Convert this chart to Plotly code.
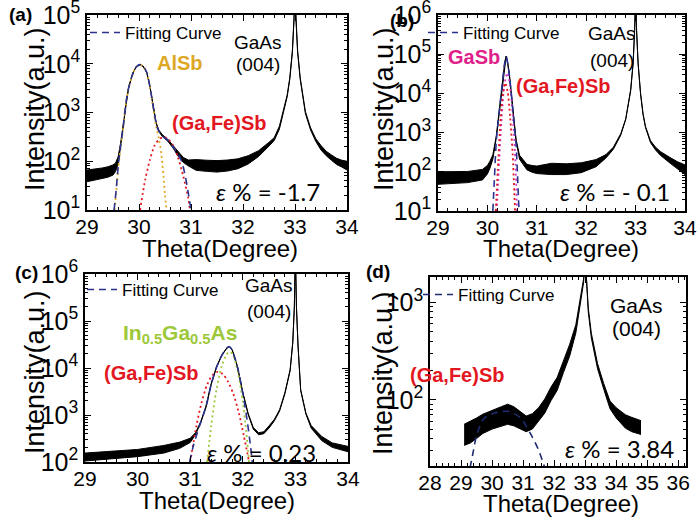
import plotly.graph_objects as go

# ---------------- data ----------------
# Panel (a): AlSb buffer
a_theta = [29.0, 29.1, 29.2, 29.3, 29.4, 29.5, 29.55, 29.6, 29.65, 29.7, 29.75, 29.8, 29.85, 29.9, 29.95,
           30.02, 30.08, 30.15, 30.21, 30.28, 30.33, 30.38, 30.45, 30.55, 30.65, 30.75, 30.85, 30.95,
           31.1, 31.3, 31.5, 31.7, 31.9, 32.1, 32.3, 32.5, 32.6, 32.7, 32.8, 32.85, 32.9, 32.95, 32.98,
           33.0, 33.02, 33.05, 33.1, 33.15, 33.2, 33.3, 33.4, 33.5, 33.6, 33.7, 33.8, 33.9, 34.0]
a_lo = [38, 40, 42, 44, 47, 52, 62, 88, 210, 540, 1550, 3150, 4950, 7000, 8600,
        9500, 8800, 6500, 3350, 1180, 590, 410, 320, 260, 190, 128, 95, 80,
        65, 62, 60, 63, 70, 88, 125, 205, 265, 455, 1200, 2100, 4800, 17000, 75000,
        300000, 75000, 17000, 4800, 2100, 950, 435, 255, 170, 130, 105, 86, 76, 66]
a_hi = [66, 68, 70, 73, 77, 84, 92, 125, 250, 580, 1650, 3250, 5050, 7200, 8800,
        9700, 9000, 6700, 3450, 1220, 620, 440, 350, 285, 215, 155, 120, 106,
        108, 105, 103, 106, 112, 130, 165, 245, 305, 525, 1300, 2300, 5200, 19000, 85000,
        300000, 85000, 19000, 5200, 2300, 1050, 485, 290, 210, 160, 135, 115, 105, 100]
a_fit_theta = [29.52, 29.56, 29.6, 29.65, 29.7, 29.75, 29.8, 29.85, 29.9, 29.95, 30.02, 30.08,
               30.15, 30.21, 30.28, 30.33, 30.38, 30.45, 30.55, 30.65, 30.75, 30.82, 30.88, 30.94, 31.0]
a_fit = [10, 25, 80, 220, 560, 1600, 3200, 5000, 7100, 8700, 9600, 8900,
         6600, 3400, 1200, 600, 420, 330, 270, 200, 140, 100, 56, 25, 10]
a_alsb_theta = [29.53, 29.56, 29.6, 29.65, 29.7, 29.75, 29.8, 29.85, 29.9, 29.95, 30.02, 30.08,
                30.15, 30.21, 30.28, 30.33, 30.38, 30.43, 30.47, 30.5, 30.53]
a_alsb = [10, 22, 70, 200, 520, 1550, 3100, 4900, 7000, 8600, 9500, 8800,
          6400, 3300, 1100, 520, 300, 140, 50, 20, 10]
a_gfs_theta = [30.02, 30.12, 30.21, 30.3, 30.4, 30.47, 30.55, 30.65, 30.75, 30.85, 30.95, 30.98]
a_gfs = [10, 42, 107, 210, 290, 310, 290, 215, 120, 50, 17, 10]

# Panel (b): GaSb buffer
b_theta = [29.0, 29.3, 29.6, 29.9, 30.0, 30.05, 30.11, 30.18, 30.25, 30.31, 30.35, 30.38, 30.41,
           30.45, 30.52, 30.58, 30.65, 30.8, 30.9, 31.0, 31.3, 31.6, 31.9, 32.2, 32.4, 32.55,
           32.7, 32.8, 32.9, 32.95, 32.98, 33.0, 33.02, 33.05, 33.1, 33.15, 33.2, 33.3, 33.4,
           33.5, 33.7, 33.85, 34.0]
b_lo = [48, 50, 53, 62, 88, 122, 210, 740, 4300, 21000, 60000, 88000, 60000,
        25000, 3100, 620, 210, 112, 98, 90, 85, 85, 95, 135, 225, 375,
        860, 2150, 11500, 58000, 400000, 3000000, 400000, 58000, 9700, 2900, 1350, 560, 365,
        265, 165, 120, 85]
b_hi = [100, 100, 102, 115, 145, 185, 270, 820, 4700, 23000, 62000, 90000, 62000,
        27000, 3300, 680, 265, 155, 145, 140, 165, 160, 170, 205, 275, 425,
        940, 2250, 12500, 62000, 400000, 3000000, 400000, 62000, 10300, 3100, 1450, 630, 430,
        330, 230, 180, 150]
b_fit_theta = [30.11, 30.14, 30.18, 30.25, 30.31, 30.35, 30.38, 30.41, 30.45, 30.52, 30.58, 30.61, 30.64]
b_fit = [10, 60, 600, 4500, 22000, 60000, 88000, 60000, 26000, 3200, 500, 80, 10]
b_gasb_theta = [30.19, 30.24, 30.29, 30.34, 30.4, 30.46, 30.52, 30.57, 30.6]
b_gasb = [10, 200, 2500, 15000, 33000, 15000, 2000, 150, 10]
b_gfs_theta = [30.17, 30.22, 30.27, 30.32, 30.36, 30.41, 30.46, 30.51, 30.56]
b_gfs = [10, 200, 2500, 11000, 18600, 11000, 2500, 300, 10]

# Panel (c): In0.5Ga0.5As buffer
c_theta = [29.0, 29.5, 30.0, 30.5, 30.8, 31.0, 31.1, 31.2, 31.3, 31.4, 31.5, 31.6, 31.7, 31.75,
           31.8, 31.9, 32.0, 32.1, 32.2, 32.3, 32.4, 32.5, 32.6, 32.7, 32.8, 32.9, 32.95, 32.98,
           33.0, 33.02, 33.05, 33.1, 33.2, 33.3, 33.5, 33.7, 34.0]
c_lo = [105, 115, 130, 155, 195, 260, 380, 680, 1450, 4500, 10300, 18300, 26700, 28200,
        23700, 10300, 2950, 1040, 500, 380, 400, 530, 750, 1220, 2800, 8700, 34000, 200000,
        3000000, 200000, 29000, 3300, 1040, 525, 285, 205, 165]
c_hi = [155, 170, 185, 225, 265, 320, 420, 720, 1550, 4700, 10700, 18900, 27300, 28800,
        24300, 10700, 3050, 1100, 540, 420, 440, 590, 810, 1300, 3000, 9300, 36000, 200000,
        3000000, 200000, 31000, 3500, 1100, 595, 350, 255, 215]
c_fit_theta = [30.99, 31.05, 31.13, 31.2, 31.3, 31.4, 31.5, 31.6, 31.7, 31.75, 31.8, 31.9, 32.0,
               32.08, 32.14, 32.18]
c_fit = [100, 200, 400, 700, 1500, 4500, 10300, 18400, 26800, 28300, 23800, 10300, 2900,
         800, 250, 100]
c_gfs_theta = [31.0, 31.12, 31.22, 31.32, 31.42, 31.52, 31.62, 31.72, 31.82, 31.92, 32.02, 32.12]
c_gfs = [100, 600, 1900, 4360, 7000, 8300, 7400, 5100, 2800, 1170, 360, 100]
c_ingaas_theta = [31.32, 31.4, 31.5, 31.6, 31.7, 31.75, 31.8, 31.9, 32.0, 32.05, 32.12]
c_ingaas = [100, 600, 3500, 11000, 20000, 22000, 20000, 9000, 1900, 650, 100]

# Panel (d): (Ga,Fe)Sb directly on GaAs
d_theta = [29.1, 29.3, 29.5, 29.7, 30.0, 30.3, 30.5, 30.7, 30.9, 31.1, 31.3, 31.5, 31.7, 31.9,
           32.1, 32.3, 32.5, 32.7, 32.85, 32.95, 33.0, 33.05, 33.1, 33.2, 33.4, 33.6, 33.8,
           34.0, 34.3, 34.5, 34.8]
d_lo = [34, 36, 40, 45, 50, 54, 56, 54, 50, 47, 50, 60, 73, 98, 125, 190, 280, 485, 1000,
        1600, 3000, 1600, 800, 430, 208, 128, 81, 65, 51, 47, 44]
d_hi = [56, 60, 65, 71, 77, 85, 90, 85, 76, 68, 72, 83, 102, 135, 170, 250, 370, 590, 1100,
        1750, 3000, 1750, 880, 480, 235, 146, 97, 83, 70, 66, 61]
d_fit_theta = [29.29, 29.4, 29.5, 29.72, 30.0, 30.52, 30.9, 31.22, 31.49, 31.7]
d_fit = [20, 30, 43, 63, 72, 76, 66, 46, 31, 20]

x_ranges = [[29, 34], [29, 34], [29, 34], [28, 36.25]]
y_ranges = [[1, 5], [1, 6], [2, 6], [1.32, 3.26]]   # log10 units
y_tickvals = [[10, 100, 1000, 10000, 100000],
              [10, 100, 1000, 10000, 100000, 1000000],
              [100, 1000, 10000, 100000, 1000000],
              [100, 1000]]
y_ticktext = [["10<sup>1</sup>", "10<sup>2</sup>", "10<sup>3</sup>", "10<sup>4</sup>", "10<sup>5</sup>"],
              ["10<sup>1</sup>", "10<sup>2</sup>", "10<sup>3</sup>", "10<sup>4</sup>", "10<sup>5</sup>", "10<sup>6</sup>"],
              ["10<sup>2</sup>", "10<sup>3</sup>", "10<sup>4</sup>", "10<sup>5</sup>", "10<sup>6</sup>"],
              ["10<sup>2</sup>", "10<sup>3</sup>"]]
strain = ["-1.7", "- 0.1", "0.23", "3.84"]

# ---------------- style ----------------
W, H = 699, 527
BLACK = "black"
BLUE = "#2B338F"
RED = "#E3171F"
GOLD = "#DDA826"
MAG = "#E0218A"
MAGL = "#CC3CC8"
GREEN = "#9DC83A"
ARIAL = "Liberation Sans, Arial, sans-serif"
EPS_FONT = "Lato, Carlito, sans-serif"

# plot-area boxes measured in page pixels (left, right, top, bottom)
boxes = [(87, 347, 15, 210), (438, 685, 15, 211), (85, 348, 274, 462), (430, 686, 277, 466)]


def px(x):
    return x / W


def py(y):
    return 1 - y / H


fig = go.Figure()


def band(theta, lo, hi, k):
    xa = "x" if k == 1 else f"x{k}"
    ya = "y" if k == 1 else f"y{k}"
    fig.add_trace(go.Scatter(x=theta, y=lo, mode="lines", line=dict(color=BLACK, width=1),
                             xaxis=xa, yaxis=ya, showlegend=False, hoverinfo="skip"))
    fig.add_trace(go.Scatter(x=theta, y=hi, mode="lines", line=dict(color=BLACK, width=1),
                             fill="tonexty", fillcolor=BLACK,
                             xaxis=xa, yaxis=ya, showlegend=False, hoverinfo="skip"))


def curve(theta, vals, k, color, dash, width=1.6, legend=None):
    xa = "x" if k == 1 else f"x{k}"
    ya = "y" if k == 1 else f"y{k}"
    fig.add_trace(go.Scatter(x=theta, y=vals, mode="lines",
                             line=dict(color=color, width=width, dash=dash, shape="spline", smoothing=0.8),
                             xaxis=xa, yaxis=ya, hoverinfo="skip",
                             name="Fitting Curve", showlegend=legend is not None,
                             legend=legend if legend else "legend"))


DOT = "2px,3px"
DASH = "7px,5px"

# (a)
band(a_theta, a_lo, a_hi, 1)
curve(a_alsb_theta, a_alsb, 1, GOLD, DOT, 1.8)
curve(a_gfs_theta, a_gfs, 1, RED, DOT, 1.8)
curve(a_fit_theta, a_fit, 1, BLUE, DASH, 1.6, "legend")
# (b)
band(b_theta, b_lo, b_hi, 2)
curve(b_gasb_theta, b_gasb, 2, MAGL, DOT, 1.8)
curve(b_gfs_theta, b_gfs, 2, RED, DOT, 1.8)
curve(b_fit_theta, b_fit, 2, BLUE, DASH, 1.6, "legend2")
# (c)
band(c_theta, c_lo, c_hi, 3)
curve(c_ingaas_theta, c_ingaas, 3, GREEN, DOT, 1.8)
curve(c_gfs_theta, c_gfs, 3, RED, DOT, 1.8)
curve(c_fit_theta, c_fit, 3, BLUE, DASH, 1.6, "legend3")
# (d)
band(d_theta, d_lo, d_hi, 4)
curve(d_fit_theta, d_fit, 4, "#1F2A6E", DASH, 1.6, "legend4")

layout = dict(width=W, height=H, margin=dict(l=0, r=0, t=0, b=0, pad=0, autoexpand=False),
              paper_bgcolor="white", plot_bgcolor="white", showlegend=True)

for i, (l, r, t, b) in enumerate(boxes):
    k = i + 1
    xn = "xaxis" if k == 1 else f"xaxis{k}"
    yn = "yaxis" if k == 1 else f"yaxis{k}"
    common = dict(showline=True, linecolor=BLACK, linewidth=1.5, mirror="allticks",
                  ticks="inside", ticklen=6, tickwidth=1.2, tickcolor=BLACK,
                  showgrid=False, zeroline=False, automargin=False, ticklabeloverflow="allow")
    layout[xn] = dict(common, domain=[px(l), px(r)], range=x_ranges[i], dtick=1, tick0=0,
                      anchor="y" if k == 1 else f"y{k}", ticklabelstandoff=-3,
                      tickfont=dict(family=ARIAL, size=21, color=BLACK),
                      minor=dict(ticks="inside", ticklen=3, dtick=0.2, tickcolor=BLACK, tickwidth=1))
    layout[yn] = dict(common, domain=[py(b), py(t)], type="log", range=y_ranges[i],
                      tickmode="array", tickvals=y_tickvals[i], ticktext=y_ticktext[i],
                      anchor="x" if k == 1 else f"x{k}",
                      tickfont=dict(family=ARIAL, size=25, color=BLACK),
                      minor=dict(ticks="inside", ticklen=3, dtick="D1", tickcolor=BLACK, tickwidth=1))

leg_pos = [(85, 33), (423, 33), (82, 290), (418, 295)]
for i, (lx, ly) in enumerate(leg_pos):
    name = "legend" if i == 0 else f"legend{i + 1}"
    layout[name] = dict(x=px(lx), y=py(ly), xanchor="left", yanchor="middle",
                        bgcolor="rgba(0,0,0,0)", borderwidth=0, itemwidth=30,
                        font=dict(family=ARIAL, size=17, color=BLACK))

fig.update_layout(**layout)


def ann(text, x, y, size, color=BLACK, family=ARIAL, angle=0):
    fig.add_annotation(text=text, x=px(x), y=py(y), xref="paper", yref="paper",
                       xanchor="center", yanchor="middle", showarrow=False, textangle=angle,
                       font=dict(family=family, size=size, color=color))


panel_letters = [("(a)", 20, 15), ("(b)", 402, 21), ("(c)", 26, 272), ("(d)", 378, 271)]
for t, x, y in panel_letters:
    ann(f"<b>{t}</b>", x, y, 19)

# GaAs (004)
for (x, y1, y2, s) in [(258, 42, 64, 19), (612, 34, 60, 19), (269, 285, 311, 19), (636, 305, 328, 21)]:
    ann("GaAs", x, y1, s)
    ann("(004)", x, y2, s)

ann("<b>AlSb</b>", 180, 63, 20, GOLD)
ann("<b>(Ga,Fe)Sb</b>", 219, 123, 20, RED)
ann("<b>GaSb</b>", 474, 57, 20, MAG)
ann("<b>(Ga,Fe)Sb</b>", 563, 86, 20, RED)
ann("<b>In<sub>0.5</sub>Ga<sub>0.5</sub>As</b>", 180, 334, 21, GREEN)
ann("<b>(Ga,Fe)Sb</b>", 151, 373, 20, RED)
ann("<b>(Ga,Fe)Sb</b>", 457, 375, 20, RED)

eps_pos = [(268, 192), (615, 192), (261, 452), (619, 448)]
for (x, y), s in zip(eps_pos, strain):
    ann(f"<i>ε</i> % = {s}", x, y, 24, family=EPS_FONT)

for (x, y) in [(220, 248), (561, 249), (217, 500), (561, 503)]:
    ann("Theta(Degree)", x, y, 24)
for (x, y) in [(35, 109), (384, 109), (35, 372), (383, 373)]:
    ann("Intensity(a.u.)", x, y, 27, angle=-90)

# remove the default 8px page margin so the figure sits at the page origin
fig.write_html("out.html", config={"displayModeBar": False},
               post_script="document.body.style.margin='0';")
